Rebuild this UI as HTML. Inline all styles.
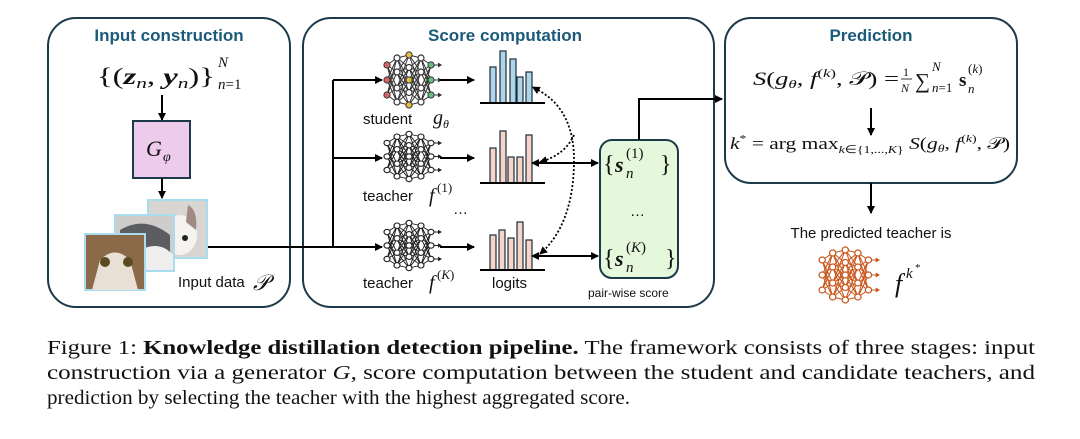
<!DOCTYPE html>
<html><head><meta charset="utf-8"><style>
body{margin:0;background:#fff;}
svg{display:block;font-size:15px}
.t{font-family:"Liberation Sans",sans-serif;font-weight:bold;font-size:17px;fill:#1b5a78;text-anchor:middle}
.s{font-family:"Liberation Sans",sans-serif;fill:#111}
.m{font-family:"Liberation Serif",serif;fill:#111}
.i{font-style:italic}
.c{font-family:"Liberation Serif",serif;fill:#111}
</style></head><body>
<svg width="1080" height="439" viewBox="0 0 1080 439" xmlns="http://www.w3.org/2000/svg">
<defs>
<marker id="ah" markerWidth="8" markerHeight="8" refX="7" refY="4" orient="auto" markerUnits="userSpaceOnUse"><path d="M0,0 L8,4 L0,8 z" fill="#000"/></marker>
<marker id="ahs" markerWidth="8" markerHeight="8" refX="1" refY="4" orient="auto-start-reverse" markerUnits="userSpaceOnUse"><path d="M0,0 L8,4 L0,8 z" fill="#000"/></marker>
<g id="net">
<g stroke="currentColor" stroke-width="1">
<path d="M4,10L14,3M4,10L14,17M4,10L14,33M4,10L14,47M4,25L14,3M4,25L14,17M4,25L14,33M4,25L14,47M4,40L14,3M4,40L14,17M4,40L14,33M4,40L14,47"/>
<path d="M14,3L26,0M14,3L26,12.5M14,3L26,25M14,3L26,37.5M14,17L26,0M14,17L26,12.5M14,17L26,25M14,17L26,37.5M14,17L26,50M14,33L26,0M14,33L26,12.5M14,33L26,25M14,33L26,37.5M14,33L26,50M14,47L26,12.5M14,47L26,25M14,47L26,37.5M14,47L26,50"/>
<path d="M38,3L26,0M38,3L26,12.5M38,3L26,25M38,3L26,37.5M38,17L26,0M38,17L26,12.5M38,17L26,25M38,17L26,37.5M38,17L26,50M38,33L26,0M38,33L26,12.5M38,33L26,25M38,33L26,37.5M38,33L26,50M38,47L26,12.5M38,47L26,25M38,47L26,37.5M38,47L26,50"/>
<path d="M48,10L38,3M48,10L38,17M48,10L38,33M48,10L38,47M48,25L38,3M48,25L38,17M48,25L38,33M48,25L38,47M48,40L38,3M48,40L38,17M48,40L38,33M48,40L38,47"/>
<path d="M48,10H57M48,25H57M48,40H57"/>
</g>
<g fill="currentColor"><path d="M55,7.5L59,10L55,12.5zM55,22.5L59,25L55,27.5zM55,37.5L59,40L55,42.5z"/></g>
<g fill="#fff" stroke="currentColor" stroke-width="1.2">
<circle cx="4" cy="10" r="3"/><circle cx="4" cy="25" r="3"/><circle cx="4" cy="40" r="3"/>
<circle cx="14" cy="3" r="3"/><circle cx="14" cy="17" r="3"/><circle cx="14" cy="33" r="3"/><circle cx="14" cy="47" r="3"/>
<circle cx="26" cy="0" r="3"/><circle cx="26" cy="12.5" r="3"/><circle cx="26" cy="25" r="3"/><circle cx="26" cy="37.5" r="3"/><circle cx="26" cy="50" r="3"/>
<circle cx="38" cy="3" r="3"/><circle cx="38" cy="17" r="3"/><circle cx="38" cy="33" r="3"/><circle cx="38" cy="47" r="3"/>
<circle cx="48" cy="10" r="3"/><circle cx="48" cy="25" r="3"/><circle cx="48" cy="40" r="3"/>
</g>
</g>
</defs>

<!-- boxes -->
<rect x="48" y="18" width="242" height="289" rx="28" fill="none" stroke="#1c3a4a" stroke-width="2"/>
<rect x="303" y="18" width="411" height="289" rx="28" fill="none" stroke="#1c3a4a" stroke-width="2"/>
<rect x="725" y="18" width="292" height="165" rx="26" fill="none" stroke="#1c3a4a" stroke-width="2"/>
<text class="t" x="169" y="41">Input construction</text>
<text class="t" x="505" y="41">Score computation</text>
<text class="t" x="871" y="41">Prediction</text>

<!-- input construction -->
<text class="m" x="97" y="84" font-size="23" textLength="118" lengthAdjust="spacingAndGlyphs">{(<tspan class="i" font-weight="bold">z</tspan><tspan font-size="15" dy="4" class="i">n</tspan><tspan dy="-4">, </tspan><tspan class="i" font-weight="bold">y</tspan><tspan font-size="15" dy="4" class="i">n</tspan><tspan dy="-4">)}</tspan></text>
<text class="m i" x="218" y="67" font-size="15">N</text>
<text class="m" x="218" y="89" font-size="15"><tspan class="i">n</tspan>=1</text>
<line x1="162" y1="95" x2="162" y2="120" stroke="#000" stroke-width="2" marker-end="url(#ah)"/>
<rect x="133" y="121" width="57" height="57" fill="#eccbeb" stroke="#1c3a4a" stroke-width="2"/>
<text class="m i" x="146" y="156" font-size="22">G</text><text class="m i" x="163" y="161" font-size="14">φ</text>
<line x1="162" y1="178" x2="162" y2="198" stroke="#000" stroke-width="2" marker-end="url(#ah)"/>
<line x1="207" y1="247" x2="333" y2="247" stroke="#000" stroke-width="2"/>
<rect x="148" y="200" width="59" height="58" fill="#d9d6d2" stroke="#a9dcee" stroke-width="2"/>
<ellipse cx="180" cy="235" rx="17" ry="20" fill="#f4f3f0"/><circle cx="185" cy="238" r="3" fill="#222"/><path d="M188,205 q10,5 8,25 l-10,-8z" fill="#a08a84"/>
<rect x="115" y="215" width="59" height="56" fill="#cfcdcb" stroke="#a9dcee" stroke-width="2"/>
<path d="M120,230 q25,-15 50,5 l0,35 l-50,0z" fill="#5b5d60"/><path d="M140,250 q20,-10 33,5 l0,15 l-33,0z" fill="#eee"/>
<rect x="85" y="234" width="60" height="56" fill="#8a6a48" stroke="#a9dcee" stroke-width="2"/>
<path d="M100,260 q15,-15 30,0 l8,30 l-46,0z" fill="#e8e0d4"/>
<circle cx="105" cy="262" r="5" fill="#5a4a20"/><circle cx="128" cy="262" r="5" fill="#5a4a20"/>
<text class="s" x="178" y="287" font-size="15">Input data</text><text class="m i" x="253" y="290" font-size="22">𝒫</text>

<!-- score computation -->
<path d="M333,247 V80" stroke="#000" stroke-width="2" fill="none"/>
<line x1="333" y1="80" x2="382" y2="80" stroke="#000" stroke-width="2" marker-end="url(#ah)"/>
<line x1="333" y1="158" x2="382" y2="158" stroke="#000" stroke-width="2" marker-end="url(#ah)"/>
<line x1="333" y1="247" x2="382" y2="247" stroke="#000" stroke-width="2" marker-end="url(#ah)"/>
<use href="#net" x="383" y="55" color="#333"/>
<use href="#net" transform="translate(383,134) scale(1,0.9)" color="#222"/>
<use href="#net" transform="translate(383,223) scale(1,0.9)" color="#222"/>
<g stroke="none"><circle cx="387" cy="65" r="2.5" fill="#e06060"/><circle cx="387" cy="80" r="2.5" fill="#e06060"/><circle cx="387" cy="95" r="2.5" fill="#e06060"/>
<circle cx="409" cy="55" r="2.5" fill="#e8c040"/><circle cx="409" cy="80" r="2.5" fill="#e8c040"/><circle cx="409" cy="105" r="2.5" fill="#e8c040"/>
<circle cx="431" cy="65" r="2.5" fill="#60c080"/><circle cx="431" cy="80" r="2.5" fill="#60c080"/><circle cx="431" cy="95" r="2.5" fill="#60c080"/></g>
<line x1="440" y1="80" x2="474" y2="80" stroke="#000" stroke-width="2" marker-end="url(#ah)"/>
<line x1="440" y1="158" x2="474" y2="158" stroke="#000" stroke-width="2" marker-end="url(#ah)"/>
<line x1="440" y1="247" x2="474" y2="247" stroke="#000" stroke-width="2" marker-end="url(#ah)"/>
<text class="s" x="363" y="124" font-size="15">student</text><text class="m i" x="433" y="124" font-size="20">g</text><text class="m i" x="443" y="128" font-size="12">θ</text>
<text class="s" x="363" y="201" font-size="15">teacher</text><text class="m i" x="429" y="202" font-size="20">f</text><text class="m" x="437" y="192" font-size="13">(1)</text>
<text class="s" x="453" y="214" font-size="15">…</text>
<text class="s" x="363" y="288" font-size="15">teacher</text><text class="m i" x="429" y="289" font-size="20">f</text><text class="m" x="437" y="279" font-size="13">(<tspan class="i">K</tspan>)</text>
<text class="s" x="492" y="288" font-size="15">logits</text>
<!-- bars -->
<g stroke="#1c2c3a" stroke-width="1.2" fill="#aed6ea">
<rect x="490" y="67" width="6" height="36"/><rect x="500" y="51" width="6" height="52"/><rect x="510" y="59" width="6" height="44"/><rect x="517" y="77" width="6" height="26"/><rect x="526" y="72" width="6" height="31"/></g>
<g stroke="#1c2c3a" stroke-width="1.2" fill="#f6d5c8">
<rect x="490" y="148" width="6" height="35"/><rect x="500" y="131" width="6" height="52"/><rect x="508" y="157" width="6" height="26"/><rect x="517" y="157" width="6" height="26"/><rect x="526" y="135" width="6" height="48"/>
<rect x="490" y="235" width="6" height="35"/><rect x="499" y="230" width="6" height="40"/><rect x="508" y="238" width="6" height="32"/><rect x="517" y="222" width="6" height="48"/><rect x="526" y="240" width="6" height="30"/></g>
<g stroke="#000" stroke-width="2"><line x1="480" y1="103" x2="545" y2="103"/><line x1="480" y1="183" x2="545" y2="183"/><line x1="480" y1="270" x2="545" y2="270"/></g>
<!-- dotted -->
<path d="M538,90 Q575,110 574,163 Q573,225 540,254" stroke="#000" stroke-width="1.8" stroke-dasharray="2,2" fill="none" marker-start="url(#ahs)" marker-end="url(#ah)"/>
<path d="M574,135 Q565,155 540,162" stroke="#000" stroke-width="1.8" stroke-dasharray="2,2" fill="none" marker-end="url(#ah)"/>
<line x1="538" y1="163" x2="598" y2="163" stroke="#000" stroke-width="2" marker-start="url(#ahs)" marker-end="url(#ah)"/>
<line x1="538" y1="256" x2="598" y2="256" stroke="#000" stroke-width="2" marker-start="url(#ahs)" marker-end="url(#ah)"/>
<rect x="600" y="140" width="78" height="138" rx="12" fill="#e6f8dc" stroke="#1c3a4a" stroke-width="2"/>
<text class="m" x="603" y="172" font-size="24">{</text><text class="m i" x="615" y="172" font-size="22" font-weight="bold">s</text><text class="m i" x="626" y="178" font-size="15">n</text><text class="m" x="626" y="158" font-size="15">(1)</text><text class="m" x="660" y="172" font-size="24">}</text>
<text class="s" x="630" y="216" font-size="15">…</text>
<text class="m" x="603" y="266" font-size="24">{</text><text class="m i" x="615" y="266" font-size="22" font-weight="bold">s</text><text class="m i" x="626" y="272" font-size="15">n</text><text class="m" x="626" y="252" font-size="15">(<tspan class="i">K</tspan>)</text><text class="m" x="665" y="266" font-size="24">}</text>
<text class="s" x="588" y="297" font-size="12">pair-wise score</text>
<path d="M639,140 V99 H722" stroke="#000" stroke-width="2" fill="none" marker-end="url(#ah)"/>

<!-- prediction -->
<text class="m" x="753" y="85" font-size="19" textLength="146" lengthAdjust="spacingAndGlyphs"><tspan class="i">S</tspan>(<tspan class="i">g</tspan><tspan font-size="12" class="i" dy="3">θ</tspan><tspan dy="-3">, </tspan><tspan class="i">f</tspan><tspan font-size="12" dy="-8">(<tspan class="i">k</tspan>)</tspan><tspan dy="8">, 𝒫) = </tspan></text>
<text class="m" x="903" y="76" font-size="12">1</text><line x1="901" y1="79" x2="912" y2="79" stroke="#000" stroke-width="0.8"/><text class="m i" x="901" y="92" font-size="12">N</text>
<text class="m" x="915" y="88" font-size="21">∑</text>
<text class="m i" x="932" y="71" font-size="13">N</text><text class="m" x="932" y="92" font-size="13"><tspan class="i">n</tspan>=1</text>
<text class="m" x="959" y="86" font-size="19" font-weight="bold">s</text><text class="m i" x="968" y="93" font-size="13">n</text><text class="m" x="968" y="73" font-size="13">(<tspan class="i">k</tspan>)</text>
<line x1="871" y1="108" x2="871" y2="135" stroke="#000" stroke-width="2" marker-end="url(#ah)"/>
<text class="m" x="730" y="149" font-size="17" textLength="280" lengthAdjust="spacingAndGlyphs"><tspan class="i">k</tspan><tspan font-size="11" dy="-7">*</tspan><tspan dy="7"> = arg max</tspan><tspan font-size="11" dy="4"><tspan class="i">k</tspan>∈{1,...,<tspan class="i">K</tspan>}</tspan><tspan dy="-4"> </tspan><tspan class="i">S</tspan>(<tspan class="i">g</tspan><tspan font-size="11" class="i" dy="3">θ</tspan><tspan dy="-3">, </tspan><tspan class="i">f</tspan><tspan font-size="11" dy="-7">(<tspan class="i">k</tspan>)</tspan><tspan dy="7">, 𝒫)</tspan></text>
<line x1="871" y1="183" x2="871" y2="213" stroke="#000" stroke-width="2" marker-end="url(#ah)"/>
<text class="s" x="871" y="238" text-anchor="middle" font-size="15">The predicted teacher is</text>
<use href="#net" transform="translate(818,250) scale(1.05,1)" color="#c8551a"/>
<text class="m i" x="895" y="292" font-size="26">f</text><text class="m i" x="906" y="278" font-size="15">k</text><text class="m" x="915" y="271" font-size="11">*</text>

<!-- caption -->
<text class="c" x="47" y="354" font-size="20" textLength="988" lengthAdjust="spacingAndGlyphs">Figure 1: <tspan font-weight="bold">Knowledge distillation detection pipeline.</tspan> The framework consists of three stages: input</text>
<text class="c" x="47" y="379" font-size="20" textLength="988" lengthAdjust="spacingAndGlyphs">construction via a generator <tspan class="i">G</tspan>, score computation between the student and candidate teachers, and</text>
<text class="c" x="47" y="404" font-size="20" textLength="583" lengthAdjust="spacingAndGlyphs">prediction by selecting the teacher with the highest aggregated score.</text>
</svg>
</body></html>
